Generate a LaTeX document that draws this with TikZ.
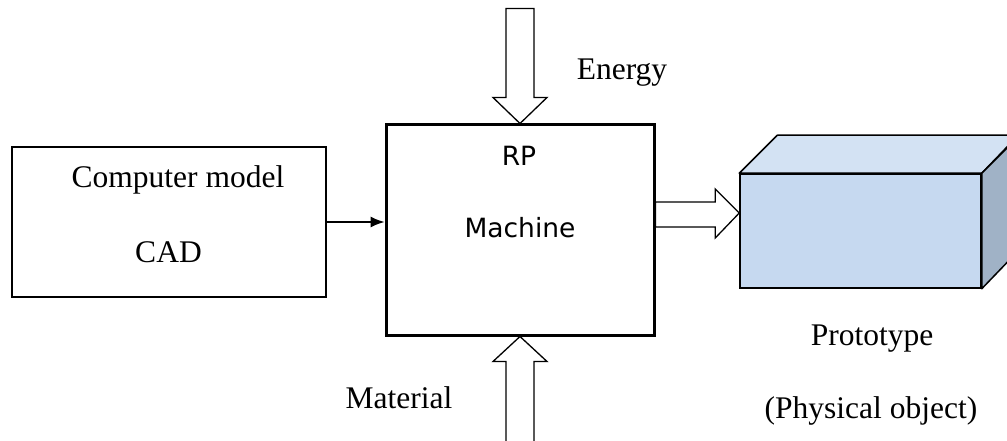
\documentclass[tikz,border=0pt]{standalone}
\usepackage{fontspec}
\setmainfont{Liberation Serif}
\newfontfamily\rpfont{DejaVu Sans}
\usepackage{tikz}
\usetikzlibrary{arrows.meta,positioning,calc}
\usepackage{xcolor}
\definecolor{FrontBlue}{RGB}{198,217,240}
\definecolor{TopBlue}{RGB}{211,226,243}
\definecolor{SideBlue}{RGB}{160,178,198}
\tikzset{
  modelbox/.style={draw, line width=1.3pt, minimum width=314pt, minimum height=150pt},
  machinebox/.style={draw, line width=3pt, minimum width=268pt, minimum height=210pt},
  facebox/.style={draw, line width=1.5pt, fill=FrontBlue, minimum width=241pt, minimum height=114pt},
  seriftext/.style={anchor=base, inner sep=0pt, font=\fontsize{31.5}{36}\selectfont},
  sanstext/.style={anchor=base, inner sep=0pt, font=\rpfont\fontsize{26.5}{32}\selectfont},
  blockarrow/.style={draw, line width=1.3pt, fill=white, line join=miter},
  arrow/.style={-{Latex[length=14pt,width=11pt]}, line width=1.3pt}
}

\begin{document}
\begin{tikzpicture}[x=1pt, y=-1pt]
  \useasboundingbox (0,0) rectangle (1007,441);
  \clip (0,0) rectangle (1007,441);
  % boxes
  \node[modelbox] (cad) at (169,222) {};
  \node[machinebox] (machine) at (520,230) {};
  \node[facebox] (front) at (860.5,231) {};
  % prototype block
  \draw[line width=1.5pt, fill=TopBlue, line join=round] (front.north west) -- ++(38,-38) -- ++(241,0) -- (front.north east) -- cycle;
  \draw[line width=1.5pt, fill=SideBlue, line join=round] (front.north east) -- ++(38,-38) -- ++(0,114) -- (front.south east) -- cycle;
  % texts
  \node[seriftext] (model) at (178,188) {Computer model};
  \node[seriftext] (cadtxt) at (168.5,262) {CAD};
  \node[sanstext] (rp) at (519,165) {RP};
  \node[sanstext] (mach) at (520,237) {Machine};
  \node[seriftext] (energy) at (622,80) {Energy};
  \node[seriftext] (material) at (399,408) {Material};
  \node[seriftext] (proto) at (872,345) {Prototype};
  \node[seriftext] (phys) at (871,418) {(Physical object)};
  % connectors
  \draw[arrow] (cad.east) -- (machine.west |- cad.east);
  \draw[blockarrow] (machine.north) -- ++(-27,-26) -- ++(13,0) -- ++(0,-89) -- ++(28,0) -- ++(0,89) -- ++(13,0) -- cycle;
  \draw[blockarrow] (machine.south) -- ++(-27,25) -- ++(13,0) -- ++(0,120) -- ++(28,0) -- ++(0,-120) -- ++(13,0) -- cycle;
  \draw[blockarrow] (front.west |- 0,213) -- ++(-24,-24) -- ++(0,13) -- (machine.east |- 0,202) -- (machine.east |- 0,227) -- ($(front.west |- 0,227)+(-24,0)$) -- ++(0,11) -- cycle;
\end{tikzpicture}
\end{document}
